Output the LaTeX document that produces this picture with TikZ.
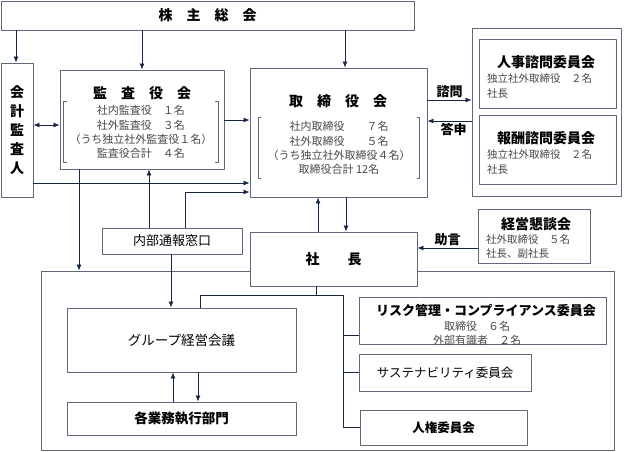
\documentclass[tikz,border=0pt]{standalone}
\usepackage{fontspec}
\usetikzlibrary{arrows.meta}
\setmainfont{Noto Sans CJK JP}
\definecolor{boxc}{RGB}{96,104,124}
\definecolor{linec}{RGB}{24,38,72}
\definecolor{txtc}{RGB}{72,72,72}
% bracket pair round a body node
\newcommand\brk[1]{%
  \draw[boxc, line width=0.8pt] ([xshift=3pt]#1.north west) -- (#1.north west) -- (#1.south west) -- ([xshift=3pt]#1.south west);
  \draw[boxc, line width=0.8pt] ([xshift=-3pt]#1.north east) -- (#1.north east) -- (#1.south east) -- ([xshift=-3pt]#1.south east);}
\begin{document}
\begin{tikzpicture}[x=1pt, y=-1pt, line join=round, >={Latex[length=6pt,width=5pt]},
  box/.style={draw=boxc, fill=white, line width=0.9pt, inner sep=0pt},
  ttl/.style={font=\bfseries\fontsize{14}{16}\selectfont},
  sm/.style={font=\fontsize{11}{14.2}\selectfont, text=txtc, inner sep=0pt},
  con/.style={draw=linec, line width=0.8pt},
  lbl/.style={font=\bfseries\fontsize{13}{15}\selectfont, inner sep=2pt}]
\fill[white] (0,0) rectangle (625,452);
\useasboundingbox (0,0) rectangle (625,452);

% top row
\node[box, ttl, minimum width=413, minimum height=29] (kabu) at (207.5,15.5) {株　主　総　会};
\node[box, font=\bfseries\fontsize{14}{19}\selectfont, align=center, minimum width=32, minimum height=134] (kaikei) at (17,130) {会\\計\\監\\査\\人};

\node[box, minimum width=164, minimum height=99] (kansa) at (142,119.5) {};
\node[ttl] (kansaT) at (142,93) {監　査　役　会};
\node[sm, align=center, minimum width=154, minimum height=61] (kansaB) at (141,132) {社内監査役　１名\\社外監査役　３名\\（うち独立社外監査役１名）\\監査役合計　４名};
\brk{kansaB}

\node[box, minimum width=177, minimum height=129] (tori) at (338.5,132.5) {};
\node[ttl] (toriT) at (338,101) {取　締　役　会};
\node[sm, align=center, minimum width=161, minimum height=61] (toriB) at (339,148) {社内取締役　　７名\\社外取締役　　５名\\（うち独立社外取締役４名）\\取締役合計 12名};
\brk{toriB}

% advisory committees
\node[box, minimum width=149, minimum height=168] (shimon) at (546.5,112) {};
\node[box, minimum width=137, minimum height=69] (jinji) at (547.5,73.5) {};
\node[ttl] (jinjiT) at (546,62) {人事諮問委員会};
\node[sm, align=left, anchor=west, font=\fontsize{10.5}{15}\selectfont] (jinjiB) at (487,86) {独立社外取締役　２名\\社長};
\node[box, minimum width=137, minimum height=69] (hoshu) at (547.5,149.5) {};
\node[ttl] (hoshuT) at (546,138) {報酬諮問委員会};
\node[sm, align=left, anchor=west, font=\fontsize{10.5}{15}\selectfont] (hoshuB) at (487,162) {独立社外取締役　２名\\社長};

% middle
\node[box, font=\fontsize{13}{15}\selectfont, minimum width=140, minimum height=26] (naibu) at (172,241) {内部通報窓口};
\node[box, fill=none, minimum width=573, minimum height=179] (grp) at (327.5,360.5) {};
\node[box, ttl, minimum width=167, minimum height=54] (shacho) at (333.5,259) {社　　長};

\node[box, minimum width=112, minimum height=54] (kondan) at (534,236) {};
\node[ttl] (kondanT) at (536,224) {経営懇談会};
\node[sm, align=left, anchor=west, font=\fontsize{10.5}{14}\selectfont] (kondanB) at (486,247) {社外取締役　５名\\社長、副社長};

% inside the group
\node[box, font=\fontsize{13.5}{15}\selectfont, minimum width=229, minimum height=64] (gkaigi) at (181.5,340) {グループ経営会議};
\node[box, font=\bfseries\fontsize{13.5}{15}\selectfont, minimum width=229, minimum height=33] (kakug) at (181.5,418.5) {各業務執行部門};

\node[box, minimum width=247, minimum height=47] (risk) at (482.5,320.5) {};
\node[font=\bfseries\fontsize{13}{15}\selectfont, inner sep=0pt] (riskT) at (486,311) {リスク管理・コンプライアンス委員会};
\node[sm, align=center] (riskB) at (477,333) {取締役　６名\\外部有識者　２名};
\node[box, font=\fontsize{12.5}{15}\selectfont, minimum width=172, minimum height=37] (sus) at (445,372.5) {サステナビリティ委員会};
\node[box, font=\bfseries\fontsize{12.5}{15}\selectfont, minimum width=167, minimum height=35] (jinken) at (443.5,427.5) {人権委員会};

% connectors
\draw[con, ->] (kabu.south -| 16,0) -- (kaikei.north -| 16,0);
\draw[con, ->] (kabu.south -| kansa) -- (kansa.north);
\draw[con, ->] (kabu.south -| 345,0) -- (tori.north -| 345,0);
\draw[con, <->] (kaikei.east |- 0,125) -- (kansa.west |- 0,125);
\draw[con, ->] (kansa.east |- 0,120) -- (tori.west |- 0,120);
\draw[con, ->] (kaikei.east |- 0,183) -- (tori.west |- 0,183);
\draw[con, ->] (naibu.north -| 185,0) |- (tori.west |- 0,192);
\draw[con, ->] (naibu.north -| 149,0) -- (kansa.south -| 149,0);
\draw[con, ->] (naibu.south -| 171,0) -- (gkaigi.north -| 171,0);
\draw[con, ->] (kansa.south -| 79,0) -- (grp.north -| 79,0);
\draw[con, ->] (kakug.north -| 173,0) -- (gkaigi.south -| 173,0);
\draw[con, ->] (gkaigi.south -| 198,0) -- (kakug.north -| 198,0);
\draw[con, ->] (shacho.north -| 318,0) -- (tori.south -| 318,0);
\draw[con, ->] (tori.south -| 346,0) -- (shacho.north -| 346,0);

\draw[con, ->] (tori.east |- 0,100) -- node[lbl, above] {諮問} (shimon.west |- 0,100);
\draw[con, ->] (shimon.west |- 0,121) -- node[lbl, below, xshift=4pt] {答申} (tori.east |- 0,121);
\draw[con, ->] (kondan.west |- 0,248) -- node[lbl, above] {助言} (shacho.east |- 0,248);

\coordinate (hub) at (343,295);
\draw[con] (shacho.south -| 316,0) -- (hub -| 316,0);
\draw[con] (gkaigi.north -| 200,0) |- (hub) |- (jinken.west);
\draw[con] (hub |- 0,335) -- (risk.west |- 0,335);
\draw[con] (hub |- sus.west) -- (sus.west);
\end{tikzpicture}
\end{document}
